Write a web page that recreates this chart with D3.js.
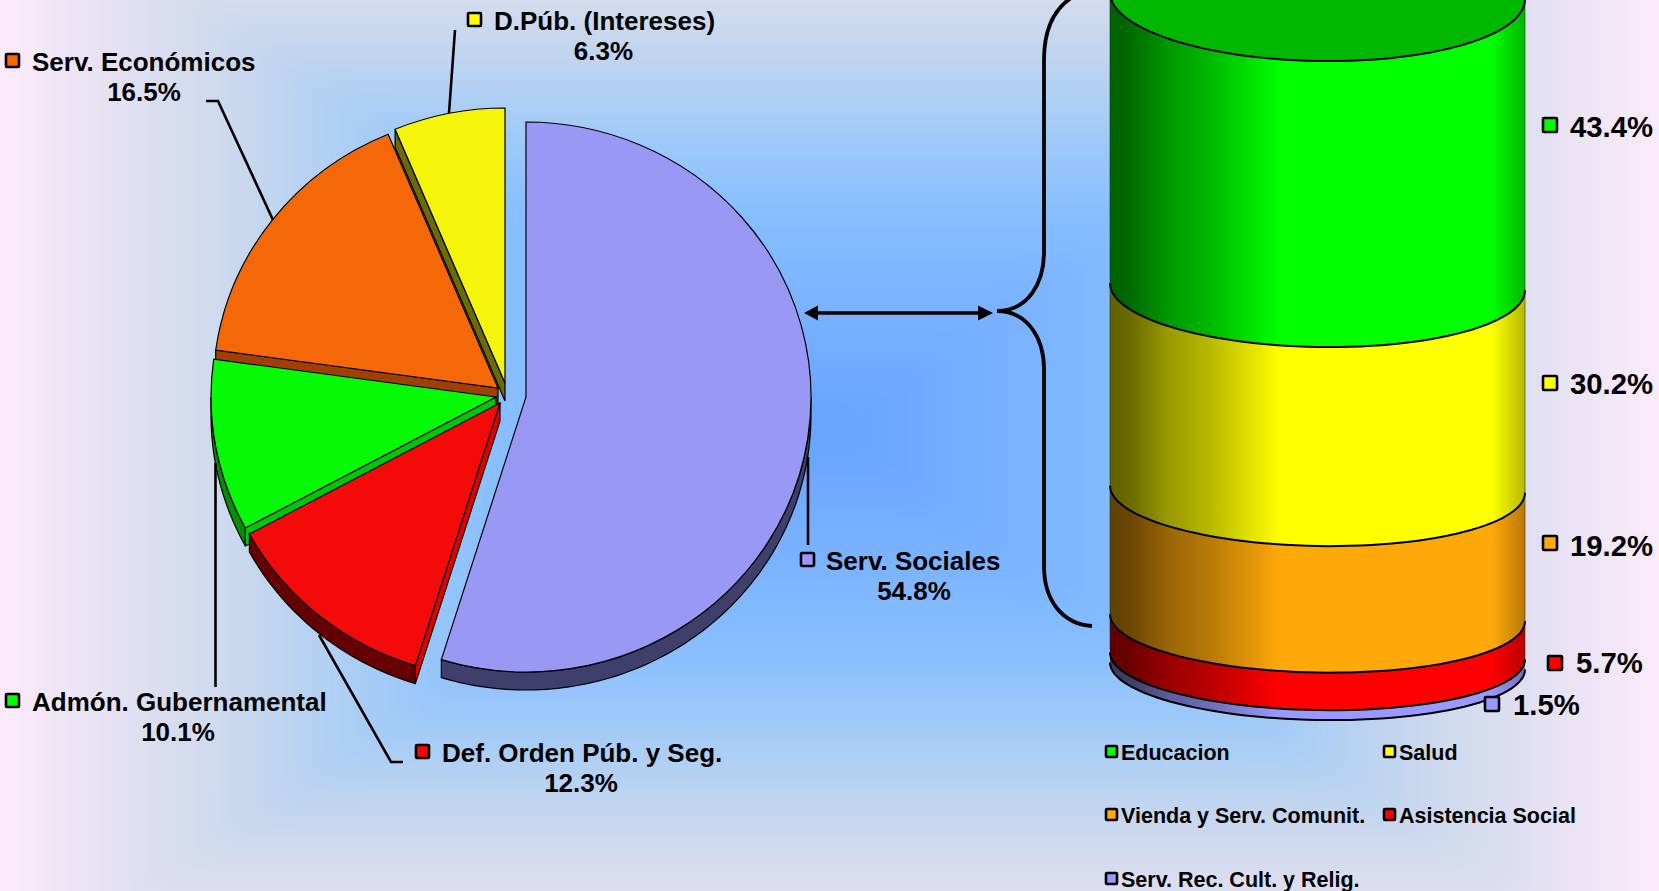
<!DOCTYPE html>
<html>
<head>
<meta charset="utf-8">
<script src="https://cdn.jsdelivr.net/npm/d3@7"></script>
<style>
  html, body { margin: 0; padding: 0; background: #fff; overflow: hidden; }
  text { font-family: "Liberation Sans", Arial, sans-serif; font-weight: 700; fill: #000; }
</style>
</head>
<body>
<svg id="chart" width="1659" height="891"></svg>
<script>
// pie: share of spending
const pieNames = ["Serv. Sociales", "Def. Orden Púb. y Seg.", "Admón. Gubernamental", "Serv. Económicos", "D.Púb. (Intereses)"];
const pieValues = [54.8, 12.3, 10.1, 16.5, 6.3];
const pieColors = ["#9999f5", "#f50a0a", "#05fa05", "#f5680a", "#f5f50a"];
const pieArcSide = ["#3f3f6b", "#660000", "#009000", "#a04000", "#6b6b00"];
const pieWallSide = ["#3f3f6b", "#e00000", "#00c800", "#a04000", "#6b6b00"];

// cylinder: breakdown of Serv. Sociales
const cylNames = ["Educacion", "Salud", "Vienda y Serv. Comunit.", "Asistencia Social", "Serv. Rec. Cult. y Relig."];
const cylValues = [43.4, 30.2, 19.2, 5.7, 1.5];
const cylColors = ["#00ff00", "#ffff00", "#ffa80a", "#ff0000", "#9999ff"];

const WIDTH = 1659, HEIGHT = 891;
const svg = d3.select("#chart");
const defs = svg.append("defs");
const pct = d3.format(".1f");

// ---- background: rectangular gradient, four triangles around the centre, blurred to hide the seams
const BG_CX = 830, BG_CY = 430, BG_RX = 830, BG_RY = 560, BG_PAD = 1.2;
const bgStops = [[0, "#66a3ff"], [.2, "#78b0ff"], [.4, "#88bfff"], [.55, "#a5ccf6"], [.7, "#c7d7ee"],
                 [.77, "#d4dcee"], [.85, "#e2e0f2"], [.93, "#efe6f6"], [1, "#fdebfa"]];
const bgCorners = [[BG_CX - BG_RX * BG_PAD, BG_CY - BG_RY * BG_PAD], [BG_CX + BG_RX * BG_PAD, BG_CY - BG_RY * BG_PAD],
                   [BG_CX + BG_RX * BG_PAD, BG_CY + BG_RY * BG_PAD], [BG_CX - BG_RX * BG_PAD, BG_CY + BG_RY * BG_PAD]];
const bgEnds = [[BG_CX, BG_CY - BG_RY], [BG_CX + BG_RX, BG_CY], [BG_CX, BG_CY + BG_RY], [BG_CX - BG_RX, BG_CY]];
defs.append("filter").attr("id", "bgBlur").attr("filterUnits", "userSpaceOnUse")
    .attr("x", -200).attr("y", -200).attr("width", WIDTH + 400).attr("height", HEIGHT + 400)
    .append("feGaussianBlur").attr("stdDeviation", 14);
const bgG = svg.append("g").attr("filter", "url(#bgBlur)");
bgEnds.forEach((end, i) => {
    const g = defs.append("linearGradient").attr("id", "bg" + i).attr("gradientUnits", "userSpaceOnUse")
        .attr("x1", BG_CX).attr("y1", BG_CY).attr("x2", end[0]).attr("y2", end[1]);
    bgStops.forEach(s => g.append("stop").attr("offset", s[0]).attr("stop-color", s[1]));
    const a = bgCorners[i], b = bgCorners[(i + 1) % 4];
    bgG.append("polygon")
        .attr("points", [[BG_CX, BG_CY], a, b].join(" "))
        .attr("fill", "url(#bg" + i + ")")
        .attr("stroke", "url(#bg" + i + ")").attr("stroke-width", 0.5);
});

// ---- pie
const PIE_RX = 285, PIE_RY = 275, PIE_DEPTH = 18;
// top-face centre of each slice once exploded
const pieCentres = [[526, 397], [500, 403], [496, 397], [498, 388], [505, 383]];
const slices = d3.pie().sort(null).startAngle(0).endAngle(2 * Math.PI)(pieValues);
const faceArc = d3.arc().innerRadius(0).outerRadius(PIE_RX);
const pieLine = d3.line();

function rim(c, a, dy) {
    return [c[0] + PIE_RX * Math.sin(a), c[1] - PIE_RY * Math.cos(a) + (dy || 0)];
}

const pieG = svg.append("g");
d3.range(slices.length - 1, -1, -1).forEach(i => {
    const s = slices[i], c = pieCentres[i];
    const from = Math.max(s.startAngle, Math.PI / 2), to = Math.min(s.endAngle, 3 * Math.PI / 2);

    // outer wall, lower half only
    if (to > from) {
        const steps = d3.range(from, to, 0.02).concat([to]);
        const pts = steps.map(a => rim(c, a, 0)).concat(steps.slice().reverse().map(a => rim(c, a, PIE_DEPTH)));
        pieG.append("path").attr("d", pieLine(pts) + "Z")
            .attr("fill", pieArcSide[i]).attr("stroke", "#000").attr("stroke-width", 1.2);
    }
    // radial wall facing down
    if (s.startAngle > Math.PI) {
        const o = rim(c, s.startAngle, 0);
        const pts = [c, o, [o[0], o[1] + PIE_DEPTH], [c[0], c[1] + PIE_DEPTH]];
        pieG.append("path").attr("d", pieLine(pts) + "Z")
            .attr("fill", pieWallSide[i]).attr("stroke", "#000").attr("stroke-width", 1.2);
    }
    pieG.append("path")
        .attr("d", faceArc(s))
        .attr("transform", "translate(" + c + ") scale(1," + PIE_RY / PIE_RX + ")")
        .attr("fill", pieColors[i])
        .attr("stroke", "#000").attr("stroke-width", 1.2)
        .attr("vector-effect", "non-scaling-stroke");
});

// ---- cylinder
const CYL_LEFT = 1110, CYL_RIGHT = 1525, CYL_TILT = 3.5;
const CYL_CX = (CYL_LEFT + CYL_RIGHT) / 2, CYL_RX = (CYL_RIGHT - CYL_LEFT) / 2;
const cylY = d3.scaleLinear().domain([0, 100]).range([61, 720]);
const cylRy = d3.scaleLinear().domain([61, 720]).range([65, 54]);
const shade = [[0, .38], [.05, .42], [.14, .6], [.24, .72], [.41, 1], [.92, 1], [1, .72]];

function frontArc(yBottom) {
    const ry = cylRy(yBottom), cy = yBottom - ry;
    return d3.range(0, 61).map(k => {
        const a = k / 60 * Math.PI;
        return [CYL_CX - CYL_RX * Math.cos(a), cy + ry * Math.sin(a) - CYL_TILT * Math.cos(a)];
    });
}

function sideGradient(id, color) {
    const base = d3.rgb(color);
    const g = defs.append("linearGradient").attr("id", id).attr("gradientUnits", "userSpaceOnUse")
        .attr("x1", CYL_LEFT).attr("y1", 0).attr("x2", CYL_RIGHT).attr("y2", 0);
    shade.forEach(s => g.append("stop").attr("offset", s[0])
        .attr("stop-color", d3.rgb(base.r * s[1], base.g * s[1], base.b * s[1]).formatHex()));
    return "url(#" + id + ")";
}

const cylG = svg.append("g");
const cumulative = d3.cumsum(cylValues);
const arcLine = d3.line();

// lid, only its lower part shows
const lidArc = frontArc(cylY(0));
const lidBack = lidArc.map(p => [p[0], 2 * (cylY(0) - cylRy(cylY(0))) - p[1]]).reverse();
cylG.append("path").attr("d", arcLine(lidArc.concat(lidBack)) + "Z")
    .attr("fill", "#00b800");

cylValues.forEach((v, i) => {
    const top = frontArc(cylY(i === 0 ? 0 : cumulative[i - 1]));
    const bottom = frontArc(cylY(cumulative[i]));
    cylG.append("path")
        .attr("d", arcLine(top.concat(bottom.slice().reverse())) + "Z")
        .attr("fill", sideGradient("cyl" + i, cylColors[i]));
});
[0].concat(Array.from(cumulative)).forEach(c => {
    cylG.append("path").attr("d", arcLine(frontArc(cylY(c))))
        .attr("fill", "none").attr("stroke", "#000")
        .attr("stroke-width", 2);
});
cylG.append("line").attr("x1", CYL_LEFT).attr("x2", CYL_LEFT).attr("y1", 0).attr("y2", 650).attr("stroke", "#1a3a1a").attr("stroke-width", .6);
cylG.append("line").attr("x1", CYL_RIGHT).attr("x2", CYL_RIGHT).attr("y1", 0).attr("y2", 660).attr("stroke", "#1a3a1a").attr("stroke-width", .6);

// ---- brace and arrow between the two
svg.append("path")
    .attr("d", "M1074,-4 C1054,8 1044,30 1044,60 L1044,252 C1044,283 1028,311 997,311 C1028,311 1044,339 1044,369 L1044,566 C1044,600 1062,624 1092,626")
    .attr("fill", "none").attr("stroke", "#000").attr("stroke-width", 3.8);

const ARROW_Y = 313;
svg.append("line").attr("x1", 815).attr("x2", 982).attr("y1", ARROW_Y).attr("y2", ARROW_Y)
    .attr("stroke", "#000").attr("stroke-width", 3.4);
svg.append("path").attr("d", d3.line()([[804, ARROW_Y], [818, ARROW_Y - 7.5], [818, ARROW_Y + 7.5]]) + "Z");
svg.append("path").attr("d", d3.line()([[993, ARROW_Y], [978, ARROW_Y - 7.5], [978, ARROW_Y + 7.5]]) + "Z");

// ---- leader lines
const leaders = [
    [[808, 457], [808, 545]],
    [[319, 635], [391, 762], [403, 762]],
    [[215.5, 463], [215.5, 687]],
    [[206, 101], [218, 101], [273, 220]],
    [[455, 30], [449, 113]]
];
leaders.forEach(pts => svg.append("path").attr("d", d3.line()(pts))
    .attr("fill", "none").attr("stroke", "#000").attr("stroke-width", 2.6));

// ---- labels
function marker(x, y, size, color) {
    svg.append("rect").attr("x", x).attr("y", y).attr("width", size).attr("height", size).attr("rx", 1)
        .attr("fill", color).attr("stroke", "#000").attr("stroke-width", 2.6);
}

const PIE_FONT = 26, RIGHT_FONT = 29.3, LEGEND_FONT = 21.5;
const pieLabelPos = [
    { mx: 801, my: 553, tx: 826, ty: 570, px: 914, py: 600 },
    { mx: 416, my: 745, tx: 442, ty: 762, px: 581, py: 792 },
    { mx: 6, my: 694, tx: 32, ty: 711, px: 178, py: 741 },
    { mx: 6, my: 54, tx: 32, ty: 71, px: 144, py: 101 },
    { mx: 468, my: 13, tx: 494, ty: 30, px: 603.5, py: 60 }
];
const pieMarkerColors = ["#9999ff", "#ff0000", "#00ff00", "#ff6600", "#ffff00"];
pieNames.forEach((name, i) => {
    const p = pieLabelPos[i];
    marker(p.mx, p.my, 13, pieMarkerColors[i]);
    svg.append("text").attr("x", p.tx).attr("y", p.ty).attr("font-size", PIE_FONT).text(name);
    svg.append("text").attr("x", p.px).attr("y", p.py).attr("font-size", PIE_FONT)
        .attr("text-anchor", "middle").text(pct(pieValues[i]) + "%");
});

const cylLabelPos = [
    { mx: 1543, my: 118, tx: 1570, ty: 137 },
    { mx: 1543, my: 376, tx: 1570, ty: 394 },
    { mx: 1543, my: 536, tx: 1570, ty: 556 },
    { mx: 1548, my: 656, tx: 1576, ty: 673 },
    { mx: 1485, my: 697, tx: 1513, ty: 715 }
];
const cylLegendPos = [[1106, 760], [1384, 760], [1106, 823], [1384, 823], [1106, 887]];
cylNames.forEach((name, i) => {
    const p = cylLabelPos[i];
    marker(p.mx, p.my, 14, cylColors[i]);
    svg.append("text").attr("x", p.tx).attr("y", p.ty).attr("font-size", RIGHT_FONT)
        .text(pct(cylValues[i]) + "%");

    const l = cylLegendPos[i];
    marker(l[0], l[1] - 14, 11, cylColors[i]);
    svg.append("text").attr("x", l[0] + 15).attr("y", l[1]).attr("font-size", LEGEND_FONT).text(name);
});
</script>
</body>
</html>
